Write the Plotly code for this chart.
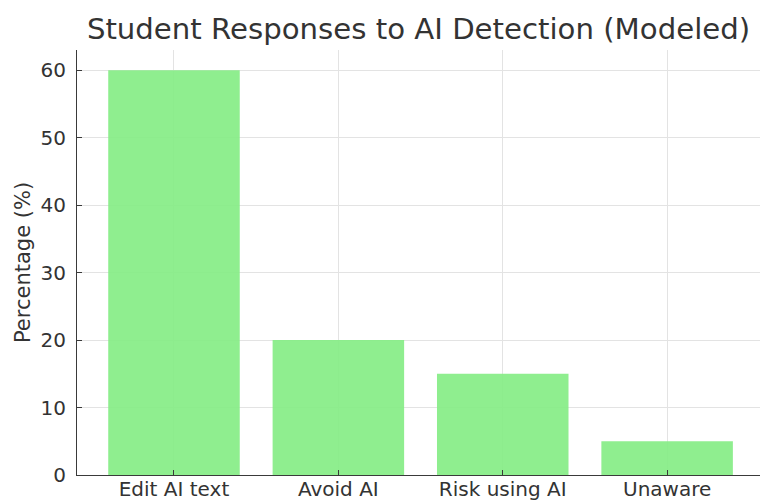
import plotly.graph_objects as go

categories = ["Edit AI text", "Avoid AI", "Risk using AI", "Unaware"]
percentages = [60, 20, 15, 5]
y_ticks = [0, 10, 20, 30, 40, 50, 60]

TEXT = "#333333"
FONT = "DejaVu Sans, Arial, sans-serif"

fig = go.Figure(
    go.Bar(
        x=list(range(len(categories))),
        y=percentages,
        width=0.8,
        marker=dict(color="rgba(134,237,134,0.92)", line=dict(width=0)),
        hoverinfo="skip",
    )
)

fig.update_layout(
    width=760,
    height=502,
    margin=dict(l=77, r=0, t=50, b=27),
    paper_bgcolor="white",
    plot_bgcolor="white",
    showlegend=False,
    font=dict(family=FONT, color=TEXT),
    title=dict(
        text="Student Responses to AI Detection (Modeled)",
        x=0.5,
        xref="paper",
        xanchor="center",
        y=1 - 29 / 502,
        yref="container",
        yanchor="middle",
        font=dict(family=FONT, size=29.2, color=TEXT),
    ),
)

fig.update_xaxes(
    range=[-0.59, 3.565],
    tickmode="array",
    tickvals=list(range(len(categories))),
    ticktext=categories,
    tickfont=dict(size=20, color=TEXT),
    showgrid=True,
    gridcolor="#e3e3e3",
    gridwidth=1,
    showline=True,
    linecolor="#3a3a3a",
    linewidth=1.2,
    ticks="inside",
    ticklen=5,
    tickcolor="#3a3a3a",
    ticklabelstandoff=-4,
    zeroline=False,
    automargin=False,
    fixedrange=True,
)

fig.update_yaxes(
    range=[0, 63],
    tickmode="array",
    tickvals=y_ticks,
    ticktext=[str(v) for v in y_ticks],
    tickfont=dict(size=20, color=TEXT),
    title=dict(text="Percentage (%)", font=dict(size=21, color=TEXT), standoff=4),
    showgrid=True,
    gridcolor="#e3e3e3",
    gridwidth=1,
    showline=True,
    linecolor="#3a3a3a",
    linewidth=1.2,
    ticks="inside",
    ticklen=5,
    tickcolor="#3a3a3a",
    ticklabelstandoff=6,
    zeroline=False,
    automargin=False,
    fixedrange=True,
)

fig.write_html("out.html")
